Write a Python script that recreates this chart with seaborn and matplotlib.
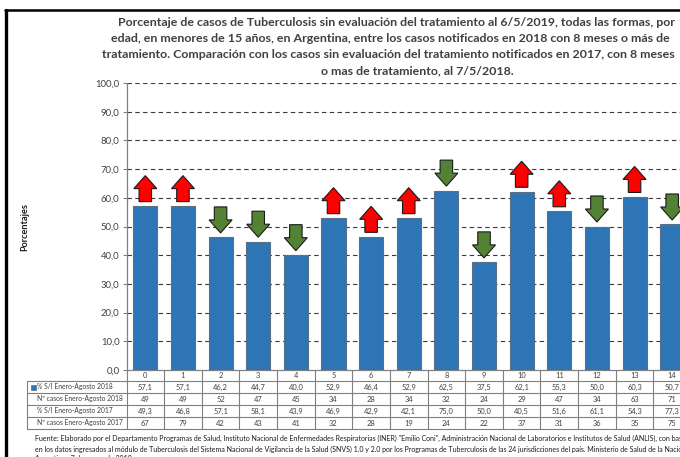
import numpy as np
import pandas as pd
import matplotlib
matplotlib.use("Agg")
import matplotlib.pyplot as plt
import seaborn as sns
from matplotlib.patches import Polygon, Rectangle
from matplotlib.lines import Line2D
from matplotlib.transforms import blended_transform_factory

# ---------------- data ----------------
categories = [str(i) for i in range(15)]
pct_2018 = [57.1, 57.1, 46.2, 44.7, 40.0, 52.9, 46.4, 52.9, 62.5, 37.5, 62.1, 55.3, 50.0, 60.3, 50.7]
n_2018 = [49, 49, 52, 47, 45, 34, 28, 34, 32, 24, 29, 47, 34, 63, 71]
pct_2017 = [49.3, 46.8, 57.1, 58.1, 43.9, 46.9, 42.9, 42.1, 75.0, 50.0, 40.5, 51.6, 61.1, 54.3, 77.3]
n_2017 = [67, 79, 42, 43, 41, 32, 28, 19, 24, 22, 37, 31, 36, 35, 75]
row_labels = ["% S/I Enero-Agosto 2018", "Nº casos Enero-Agosto 2018",
              "% S/I Enero-Agosto 2017", "Nº casos Enero-Agosto 2017"]
title_lines = [
    "Porcentaje de casos de Tuberculosis sin evaluación del tratamiento al 6/5/2019, todas las formas, por",
    "edad, en menores de 15 años, en Argentina, entre los casos notificados en 2018 con 8 meses o más de",
    "tratamiento. Comparación con los casos sin evaluación del tratamiento notificados en 2017, con 8 meses",
    "o mas de tratamiento, al 7/5/2018.",
]
footnote_lines = [
    "Fuente: Elaborado por el Departamento Programas de Salud, Instituto Nacional de Enfermedades Respiratorias (INER) \"Emilio Coni\", Administración Nacional de Laboratorios e Institutos de Salud (ANLIS), con bas",
    "en los datos ingresados al módulo de Tuberculosis del Sistema Nacional de Vigilancia de la Salud (SNVS) 1.0 y 2.0 por los Programas de Tuberculosis de las 24 jurisdicciones del país. Ministerio de Salud de la Nación",
    "Argentina.  7 de mayo  de 2019.",
]
ylabel = "Porcentajes"

# ---------------- style ----------------
sns.set_theme(style="white")
plt.rcParams['font.family'] = ['Lato', 'DejaVu Sans']

W, H = 680, 457
fig = plt.figure(figsize=(W / 100, H / 100), dpi=100)
fig.patch.set_facecolor("white")

def fx(px):
    return px / W

def fy(py):
    return 1 - py / H

BLUE = "#2E75B6"
TXT = "#404040"

ax_left, ax_right, ax_top, ax_bot = 126.5, 691.0, 83.0, 370.0
ax = fig.add_axes([fx(ax_left), fy(ax_bot), (ax_right - ax_left) / W, (ax_bot - ax_top) / H])

df = pd.DataFrame({"edad": categories, "pct": pct_2018})
sns.barplot(data=df, x="edad", y="pct", color=BLUE, width=0.64, saturation=1,
            edgecolor="#5B6F86", linewidth=0.8, ax=ax, zorder=3)
ax.set_xlim(-0.5, 14.5)
ax.set_ylim(0, 100)
ax.set_yticks(np.arange(0, 101, 10))
ax.set_yticklabels([f"{v:.1f}".replace(".", ",") for v in np.arange(0, 101, 10)],
                   fontsize=6.8, color=TXT)
ax.tick_params(axis="y", length=3, width=0.8, color="#808080", pad=2, left=True)
ax.tick_params(axis="x", bottom=False, labelbottom=False)
ax.set_xlabel("")
ax.set_ylabel("")
for s in ["top", "right"]:
    ax.spines[s].set_visible(False)
ax.spines["left"].set_color("#808080")
ax.spines["bottom"].set_color("#808080")
ax.spines["left"].set_linewidth(0.9)
ax.spines["bottom"].set_linewidth(0.9)
for v in range(10, 101, 10):
    ax.axhline(v, color="#3a3a3a", lw=0.8, ls=(0, (4, 3)), zorder=1)

# ---------------- arrows ----------------
px_y = 100.0 / (ax_bot - ax_top)
px_x = 15.0 / (ax_right - ax_left)
gap, length, head_len = 4.5 * px_y, 26 * px_y, 13 * px_y
head_w, shaft_w = 23 * px_x, 12.5 * px_x
for i, (a, b) in enumerate(zip(pct_2018, pct_2017)):
    y0 = a + gap
    y1 = y0 + length
    if a > b:
        pts = [(i - shaft_w / 2, y0), (i + shaft_w / 2, y0), (i + shaft_w / 2, y1 - head_len),
               (i + head_w / 2, y1 - head_len), (i, y1), (i - head_w / 2, y1 - head_len),
               (i - shaft_w / 2, y1 - head_len)]
        col = "#FF0000"
    else:
        pts = [(i - shaft_w / 2, y1), (i + shaft_w / 2, y1), (i + shaft_w / 2, y0 + head_len),
               (i + head_w / 2, y0 + head_len), (i, y0), (i - head_w / 2, y0 + head_len),
               (i - shaft_w / 2, y0 + head_len)]
        col = "#548235"
    ax.add_patch(Polygon(pts, closed=True, facecolor=col, edgecolor="#1a1a1a",
                         lw=0.8, zorder=4, clip_on=False))

# ---------------- helpers ----------------
renderer = fig.canvas.get_renderer()

def fit_size(text, width_px, base=10, **kw):
    t = fig.text(0, 0, text, fontsize=base, **kw)
    w = t.get_window_extent(renderer).width
    t.remove()
    return base * width_px / w

# ---------------- table ----------------
tr = blended_transform_factory(ax.transData, fig.transFigure)
row_edges = [370, 381, 393, 405, 417, 429]
line_col = "#7f7f7f"
for k, yy in enumerate(row_edges[1:]):
    fig.add_artist(Line2D([fx(27), fx(W + 20)], [fy(yy), fy(yy)], color=line_col, lw=0.8))
fig.add_artist(Line2D([fx(27), fx(27)], [fy(381), fy(429)], color=line_col, lw=0.8))
for i in range(16):
    fig.add_artist(Line2D([i - 0.5, i - 0.5], [fy(370), fy(429)], color=line_col, lw=0.8,
                          transform=tr))

tab_fs = fit_size(row_labels[1], 86)
val_fs = tab_fs * 1.12
for i, c in enumerate(categories):
    fig.text(i, fy(376), c, transform=tr, ha="center", va="center", fontsize=val_fs, color=TXT)
rows = [
    [f"{v:.1f}".replace(".", ",") for v in pct_2018],
    [str(v) for v in n_2018],
    [f"{v:.1f}".replace(".", ",") for v in pct_2017],
    [str(v) for v in n_2017],
]
centers = [387, 399, 411, 423]
for r, (lab, vals, yc) in enumerate(zip(row_labels, rows, centers)):
    fig.text(fx(37), fy(yc), lab, ha="left", va="center", fontsize=tab_fs, color=TXT)
    for i, v in enumerate(vals):
        fig.text(i, fy(yc), v, transform=tr, ha="center", va="center", fontsize=val_fs, color=TXT)
fig.add_artist(Rectangle((fx(30.5), fy(389.5)), 5 / W, 5 / H, facecolor=BLUE,
                         edgecolor="#5B6F86", lw=0.5))

# ---------------- title ----------------
title_fs = fit_size(title_lines[0], 558, fontweight="bold")
title_pos = [(396, 22), (390.5, 38), (388, 55), (417, 71)]
for line, (cx, cy) in zip(title_lines, title_pos):
    fig.text(fx(cx), fy(cy), line, ha="center", va="center", fontsize=title_fs,
             fontweight="bold", color=TXT)

# ---------------- y label ----------------
fig.text(fx(25), fy(227), ylabel, rotation=90, ha="center", va="center",
         fontsize=6.6, fontweight="bold", color="#1a1a1a")

# ---------------- footnote ----------------
foot_fs = fit_size(footnote_lines[0], 648)
for line, yy in zip(footnote_lines, [438, 449, 459]):
    fig.text(fx(35), fy(yy), line, ha="left", va="center", fontsize=foot_fs, color="#1a1a1a")

# ---------------- frame ----------------
fig.add_artist(Line2D([fx(5), fx(W + 10)], [fy(10), fy(10)], color="black", lw=1.8))
fig.add_artist(Line2D([fx(6), fx(6)], [fy(10), fy(H + 10)], color="black", lw=2.4))

fig.savefig("out.png", dpi=100)
